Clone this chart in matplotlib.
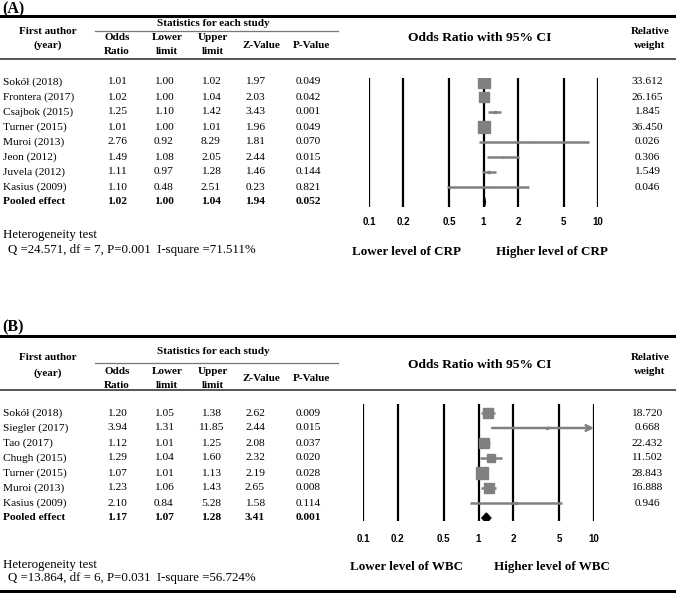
import matplotlib.pyplot as plt
import numpy as np

# ---- panel A : CRP ----
a_authors = ["Sokół (2018)", "Frontera (2017)", "Csajbok (2015)", "Turner (2015)",
             "Muroi (2013)", "Jeon (2012)", "Juvela (2012)", "Kasius (2009)"]
a_or = [1.01, 1.02, 1.25, 1.01, 2.76, 1.49, 1.11, 1.10]
a_lo = [1.00, 1.00, 1.10, 1.00, 0.92, 1.08, 0.97, 0.48]
a_hi = [1.02, 1.04, 1.42, 1.01, 8.29, 2.05, 1.28, 2.51]
a_z = ["1.97", "2.03", "3.43", "1.96", "1.81", "2.44", "1.46", "0.23"]
a_p = ["0.049", "0.042", "0.001", "0.049", "0.070", "0.015", "0.144", "0.821"]
a_w = [33.612, 26.165, 1.845, 36.450, 0.026, 0.306, 1.549, 0.046]
a_pool = [1.02, 1.00, 1.04, "1.94", "0.052"]
a_het = "Q =24.571, df = 7, P=0.001  I-square =71.511%"

# ---- panel B : WBC ----
b_authors = ["Sokół (2018)", "Siegler (2017)", "Tao (2017)", "Chugh (2015)",
             "Turner (2015)", "Muroi (2013)", "Kasius (2009)"]
b_or = [1.20, 3.94, 1.12, 1.29, 1.07, 1.23, 2.10]
b_lo = [1.05, 1.31, 1.01, 1.04, 1.01, 1.06, 0.84]
b_hi = [1.38, 11.85, 1.25, 1.60, 1.13, 1.43, 5.28]
b_z = ["2.62", "2.44", "2.08", "2.32", "2.19", "2.65", "1.58"]
b_p = ["0.009", "0.015", "0.037", "0.020", "0.028", "0.008", "0.114"]
b_w = [18.720, 0.668, 22.432, 11.502, 28.843, 16.888, 0.946]
b_pool = [1.17, 1.07, 1.28, "3.41", "0.001"]
b_het = "Q =13.864, df = 6, P=0.031  I-square =56.724%"

ticks = [0.1, 0.2, 0.5, 1, 2, 5, 10]
tick_labels = ["0.1", "0.2", "0.5", "1", "2", "5", "10"]

W, H = 676, 593
fig = plt.figure(figsize=(W / 100, H / 100), dpi=100)
ax = fig.add_axes([0, 0, 1, 1])
ax.set_xlim(0, W)
ax.set_ylim(H, 0)
ax.axis("off")

serif = "Liberation Serif"
fs = 8.2
hfs = 8
grey = "#808080"

val_x = [117, 164, 211, 255, 308]
head_x = [117, 167, 213, 261, 311]


def panel(tag, authors, ors, los, his, zs, ps, ws, pool, het, marker, lay):
    # header and rules
    ax.text(2, lay["title"], tag, fontsize=11.5, fontweight="bold", family=serif, va="center")
    ax.plot([0, W], [lay["thick"], lay["thick"]], color="black", lw=2.2)
    ax.plot([0, W], [lay["hline"], lay["hline"]], color="#555555", lw=1.4)
    ax.plot([95, 338], [lay["under"], lay["under"]], color="#777777", lw=0.9)
    ax.text(213, lay["stats"], "Statistics for each study", fontsize=hfs, fontweight="bold",
            family=serif, ha="center", va="center")
    ax.text(48, lay["fa1"], "First author", fontsize=hfs, fontweight="bold", family=serif,
            ha="center", va="center")
    ax.text(48, lay["fa2"], "(year)", fontsize=hfs, fontweight="bold", family=serif,
            ha="center", va="center")
    two = [("Odds", "Ratio"), ("Lower", "limit"), ("Upper", "limit")]
    for x, (t1, t2) in zip(head_x[:3], two):
        ax.text(x, lay["h1"], t1, fontsize=hfs, fontweight="bold", family=serif, ha="center", va="center")
        ax.text(x, lay["h2"], t2, fontsize=hfs, fontweight="bold", family=serif, ha="center", va="center")
    mid = (lay["h1"] + lay["h2"]) / 2
    ax.text(head_x[3], mid, "Z-Value", fontsize=hfs, fontweight="bold", family=serif, ha="center", va="center")
    ax.text(head_x[4], mid, "P-Value", fontsize=hfs, fontweight="bold", family=serif, ha="center", va="center")
    ax.text(480, lay["ci"], "Odds Ratio with 95% CI", fontsize=9.7, fontweight="bold", family=serif,
            ha="center", va="center")
    ax.text(650, lay["rw1"], "Relative", fontsize=hfs, fontweight="bold", family=serif, ha="center", va="center")
    ax.text(650, lay["rw2"], "weight", fontsize=hfs, fontweight="bold", family=serif, ha="center", va="center")

    # rows
    n = len(authors)
    for i in range(n):
        y = lay["row0"] + i * 15
        ax.text(3, y, authors[i], fontsize=fs, family=serif, va="center")
        cells = ["%.2f" % ors[i], "%.2f" % los[i], "%.2f" % his[i], zs[i], ps[i]]
        for x, c in zip(val_x, cells):
            ax.text(x, y, c, fontsize=fs, family=serif, ha="center", va="center")
        ax.text(647, y, "%.3f" % ws[i], fontsize=fs, family=serif, ha="center", va="center")
    y = lay["row0"] + n * 15
    ax.text(3, y, "Pooled effect", fontsize=fs, family=serif, va="center", fontweight="bold")
    cells = ["%.2f" % pool[0], "%.2f" % pool[1], "%.2f" % pool[2], pool[3], pool[4]]
    for x, c in zip(val_x, cells):
        ax.text(x, y, c, fontsize=fs, family=serif, ha="center", va="center", fontweight="bold")

    ax.text(3, lay["het"], "Heterogeneity test", fontsize=9.3, family=serif, va="center")
    ax.text(8, lay["q"], het, fontsize=9.3, family=serif, va="center")
    ax.text(407, lay["lh"], "Lower level of " + marker, fontsize=9.4, fontweight="bold",
            family=serif, ha="center", va="center")
    ax.text(552, lay["lh"], "Higher level of " + marker, fontsize=9.4, fontweight="bold",
            family=serif, ha="center", va="center")

    # forest axes
    x0, x1 = lay["fx"]
    top, bot = lay["ftop"], lay["fbot"]
    fa = fig.add_axes([x0 / W, 1 - bot / H, (x1 - x0) / W, (bot - top) / H])
    fa.set_xscale("log")
    fa.set_xlim(0.1, 10)
    fa.set_ylim((bot - lay["row0"]) / 15, (top - lay["row0"]) / 15)
    fa.patch.set_alpha(0)
    for s in fa.spines.values():
        s.set_visible(False)
    fa.set_yticks([])
    fa.minorticks_off()
    fa.set_xticks(ticks)
    fa.set_xticklabels(tick_labels)
    fa.tick_params(axis="x", length=0, pad=lay["pad"], labelsize=7)
    for lab in fa.get_xticklabels():
        lab.set_fontweight("bold")
        lab.set_family("Liberation Sans")
    for t in ticks:
        fa.axvline(t, color="black", lw=1.6, zorder=1)

    wmax = max(ws)
    for i in range(n):
        if his[i] > 10:
            fa.annotate("", xy=(10, i), xytext=(los[i], i),
                        arrowprops=dict(arrowstyle="->", color=grey, lw=1.8,
                                        shrinkA=0, shrinkB=0, mutation_scale=10), zorder=3)
        else:
            fa.hlines(i, los[i], his[i], color=grey, lw=1.8, zorder=3)
        ms = 8.6 * np.sqrt(ws[i] / wmax)
        fa.plot(ors[i], i, marker="s", ms=ms, color=grey, mec=grey, zorder=4)
    h = 0.33
    fa.fill([pool[1], pool[0], pool[2], pool[0]], [n, n - h, n, n + h], color="black", zorder=5)


lay_a = dict(title=9, thick=16, stats=24, under=31, fa1=32, fa2=45, h1=38, h2=52, ci=38,
             rw1=32, rw2=45, hline=59, row0=82, het=235, q=250, lh=252,
             fx=(369, 598), ftop=78, fbot=207, pad=7)
lay_b = dict(title=327, thick=336, stats=352, under=363, fa1=357, fa2=373, h1=372, h2=385, ci=365,
             rw1=357, rw2=371, hline=390, row0=413, het=565, q=578, lh=567,
             fx=(363, 594), ftop=404, fbot=521, pad=9)

panel("(A)", a_authors, a_or, a_lo, a_hi, a_z, a_p, a_w, a_pool, a_het, "CRP", lay_a)
panel("(B)", b_authors, b_or, b_lo, b_hi, b_z, b_p, b_w, b_pool, b_het, "WBC", lay_b)

ax.plot([0, W], [591, 591], color="black", lw=2.2)

fig.savefig("out.png", dpi=100)
